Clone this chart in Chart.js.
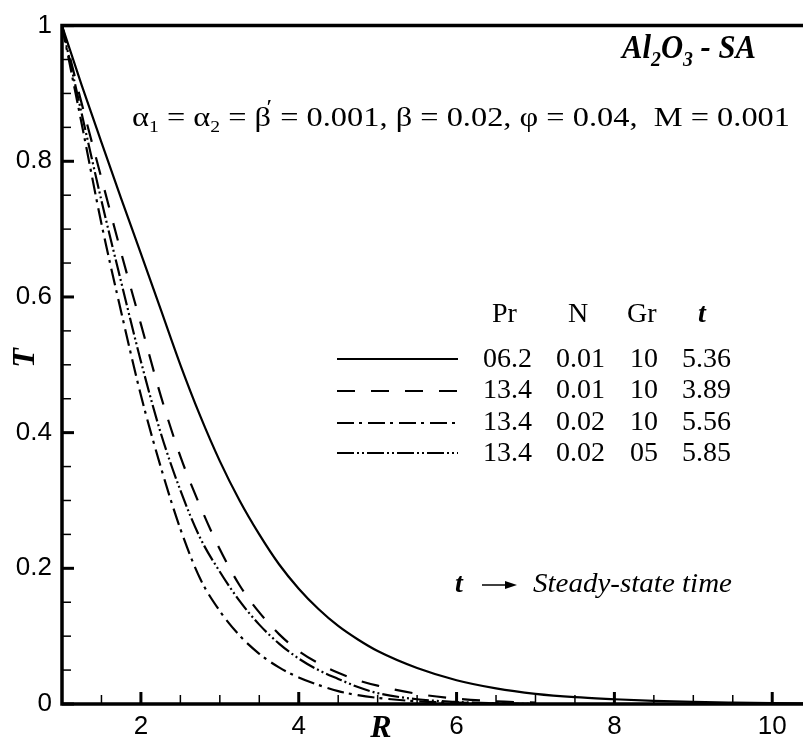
<!DOCTYPE html>
<html><head><meta charset="utf-8">
<script src="https://cdn.jsdelivr.net/npm/chart.js@4.4.0/dist/chart.umd.min.js"></script>
<style>html,body{margin:0;padding:0;background:#fff;}#wrap{width:803px;height:740px;}</style>
</head><body><div id="wrap"><canvas id="c" width="803" height="740"></canvas></div>
<script>
// ---- data ----
const rValues = [1, 1.25, 1.5, 1.75, 2, 2.25, 2.5, 2.75, 3, 3.25, 3.5, 3.75, 4, 4.25, 4.5, 4.75, 5, 5.5, 6, 6.5, 7, 7.5, 8, 8.5, 9, 9.5, 10, 10.5];
const tPr62 = [1.000, 0.912, 0.828, 0.745, 0.664, 0.582, 0.500, 0.425, 0.358, 0.300, 0.250, 0.206, 0.170, 0.140, 0.115, 0.095, 0.078, 0.053, 0.035, 0.023, 0.015, 0.010, 0.007, 0.0045, 0.003, 0.002, 0.0012, 0.0008];
const tPr134N01 = [1.000, 0.885, 0.775, 0.665, 0.560, 0.455, 0.365, 0.292, 0.228, 0.175, 0.135, 0.103, 0.078, 0.060, 0.046, 0.035, 0.027, 0.015, 0.008, 0.004, 0.002, null, null, null, null, null, null, null];
const tPr134N02 = [1.000, 0.855, 0.708, 0.578, 0.455, 0.350, 0.258, 0.185, 0.137, 0.101, 0.074, 0.054, 0.039, 0.028, 0.019, 0.013, 0.009, 0.004, 0.002, 0.001, 0.000, null, null, null, null, null, null, null];
const tPr134Gr05 = [1.000, 0.870, 0.742, 0.622, 0.505, 0.400, 0.315, 0.245, 0.195, 0.152, 0.117, 0.089, 0.067, 0.050, 0.037, 0.025, 0.016, 0.007, 0.003, 0.001, 0.000, null, null, null, null, null, null, null];

const legendHeader = ['Pr', 'N', 'Gr', 't'];
const legendRows = [
  ['06.2', '0.01', '10', '5.36'],
  ['13.4', '0.01', '10', '3.89'],
  ['13.4', '0.02', '10', '5.56'],
  ['13.4', '0.02', '05', '5.85']
];
const xTicks = [1, 1.5, 2, 2.5, 3, 3.5, 4, 4.5, 5, 5.5, 6, 6.5, 7, 7.5, 8, 8.5, 9, 9.5, 10];
const xTickLabels = {2: '2', 4: '4', 6: '6', 8: '8', 10: '10'};
const yTicks = [0, 0.05, 0.1, 0.15, 0.2, 0.25, 0.3, 0.35, 0.4, 0.45, 0.5, 0.55, 0.6, 0.65, 0.7, 0.75, 0.8, 0.85, 0.9, 0.95, 1];
const yTickLabels = {0: '0', 0.2: '0.2', 0.4: '0.4', 0.6: '0.6', 0.8: '0.8', 1: '1'};

// ---- helpers ----
function toPts(ys) { return rValues.map((r, i) => ({x: r, y: ys[i] === null ? null : ys[i]})); }
function lookupLabel(map, v) {
  for (const k in map) { if (Math.abs(parseFloat(k) - v) < 1e-6) return map[k]; }
  return '';
}
const SERIF = '"Liberation Serif", "Times New Roman", serif';
const SANS = '"Liberation Sans", Arial, sans-serif';

function richText(ctx, segs, x, y, targetW) {
  let w = 0;
  segs.forEach(s => { ctx.font = s.font; s.w = ctx.measureText(s.t).width; w += s.w + (s.dx || 0); });
  const k = targetW ? targetW / w : 1;
  ctx.save();
  ctx.translate(x, y);
  ctx.scale(k, 1);
  let cx = 0;
  ctx.textAlign = 'left';
  ctx.textBaseline = 'alphabetic';
  segs.forEach(s => { ctx.font = s.font; cx += (s.dx || 0); ctx.fillText(s.t, cx, s.dy || 0); cx += s.w; });
  ctx.restore();
}

const framePlugin = {
  id: 'frame',
  afterDatasetsDraw(chart) {
    const ctx = chart.ctx;
    const xs = chart.scales.x, ys = chart.scales.y;
    const L = chart.chartArea.left, R = chart.chartArea.right, T = chart.chartArea.top, B = chart.chartArea.bottom;
    ctx.save();
    ctx.strokeStyle = '#000';
    ctx.setLineDash([]);
    // inward ticks
    xTicks.forEach(v => {
      const px = xs.getPixelForValue(v);
      const major = lookupLabel(xTickLabels, v) !== '';
      ctx.lineWidth = major ? 3 : 1.5;
      ctx.beginPath(); ctx.moveTo(px, B); ctx.lineTo(px, B - (major ? 12 : 9)); ctx.stroke();
    });
    yTicks.forEach(v => {
      const py = ys.getPixelForValue(v);
      const major = lookupLabel(yTickLabels, v) !== '';
      ctx.lineWidth = major ? 3 : 1.5;
      ctx.beginPath(); ctx.moveTo(L, py); ctx.lineTo(L + (major ? 12 : 9), py); ctx.stroke();
    });
    // axes and top frame
    ctx.lineWidth = 3.5;
    ctx.beginPath();
    ctx.moveTo(R, T); ctx.lineTo(L, T); ctx.lineTo(L, B); ctx.lineTo(R, B);
    ctx.stroke();

    ctx.fillStyle = '#000';
    // axis titles
    ctx.font = 'italic bold 32px ' + SERIF;
    ctx.textAlign = 'center'; ctx.textBaseline = 'alphabetic';
    ctx.fillText('R', 381, 737);
    ctx.save();
    ctx.translate(34, 358); ctx.rotate(-Math.PI / 2);
    ctx.fillText('T', 0, 0);
    ctx.restore();

    // material label
    const bi = 'italic bold 34px ' + SERIF, bis = 'italic bold 22px ' + SERIF;
    richText(ctx, [
      {t: 'Al', font: bi}, {t: '2', font: bis, dy: 8}, {t: 'O', font: bi}, {t: '3', font: bis, dy: 8}, {t: ' - SA', font: bi}
    ], 622, 58, 134);

    // parameter line
    const rf = '28px ' + SERIF, rs = '17px ' + SERIF;
    richText(ctx, [
      {t: 'α', font: rf}, {t: '1', font: rs, dy: 6}, {t: ' = ', font: rf},
      {t: 'α', font: rf}, {t: '2', font: rs, dy: 6}, {t: ' = ', font: rf},
      {t: 'β', font: rf}, {t: '\u2032', font: '22px ' + SERIF, dy: -12, dx: -4}, {t: ' = 0.001, ', font: rf},
      {t: 'β', font: rf}, {t: ' = 0.02, ', font: rf},
      {t: 'φ', font: rf}, {t: ' = 0.04,  M = 0.001', font: rf}
    ], 132, 126, 658);

    // legend table
    ctx.textAlign = 'left'; ctx.textBaseline = 'alphabetic';
    const colX = [483, 556, 630, 682];
    const hdrX = [492, 568, 627, 698];
    legendHeader.forEach((h, i) => {
      ctx.font = (h === 't' ? 'italic bold 28px ' : '28px ') + SERIF;
      ctx.fillText(h, hdrX[i], 322);
    });
    const rowY = [367, 398, 430, 461];
    const lineY = [359, 391, 423, 453];
    ctx.font = '28px ' + SERIF;
    legendRows.forEach((row, r) => {
      row.forEach((cell, c) => ctx.fillText(cell, colX[c], rowY[r]));
    });
    chart.data.datasets.forEach((ds, i) => {
      ctx.lineWidth = ds.borderWidth;
      ctx.setLineDash(ds.borderDash || []);
      ctx.beginPath(); ctx.moveTo(337, lineY[i]); ctx.lineTo(458, lineY[i]); ctx.stroke();
    });
    ctx.setLineDash([]);

    // steady-state note
    ctx.font = 'italic bold 28px ' + SERIF;
    ctx.fillText('t', 455, 592);
    ctx.lineWidth = 1.5;
    ctx.beginPath(); ctx.moveTo(482, 585); ctx.lineTo(508, 585); ctx.stroke();
    ctx.beginPath(); ctx.moveTo(517, 585); ctx.lineTo(505, 581); ctx.lineTo(505, 589); ctx.closePath(); ctx.fill();
    richText(ctx, [{t: 'Steady-state time', font: 'italic 28px ' + SERIF}], 533, 592, 199);
    ctx.restore();
  }
};

const mk = (label, ys, dash) => ({
  label, data: toPts(ys), showLine: true, borderColor: '#000', backgroundColor: '#000',
  borderWidth: 2.2, borderDash: dash, pointRadius: 0, fill: false, cubicInterpolationMode: 'monotone', spanGaps: false
});

new Chart(document.getElementById('c'), {
  type: 'scatter',
  data: {
    datasets: [
      mk('Pr=06.2, N=0.01, Gr=10', tPr62, []),
      mk('Pr=13.4, N=0.01, Gr=10', tPr134N01, [18, 16]),
      mk('Pr=13.4, N=0.02, Gr=10', tPr134N02, [17, 5, 3, 6]),
      mk('Pr=13.4, N=0.02, Gr=05', tPr134Gr05, [17, 3, 2, 3, 2, 3])
    ]
  },
  options: {
    responsive: false, animation: false, devicePixelRatio: 1,
    layout: {padding: {top: 20, right: 0, left: 0, bottom: 0}},
    plugins: {legend: {display: false}, tooltip: {enabled: false}},
    scales: {
      x: {
        type: 'linear', min: 1, max: 10.39,
        afterBuildTicks: s => { s.ticks = xTicks.map(v => ({value: v})); },
        afterFit: s => { s.height = 36; },
        grid: {display: false, drawTicks: false}, border: {display: false},
        ticks: {autoSkip: false, maxRotation: 0, padding: 7, color: '#000',
          font: {family: SANS, size: 26},
          callback: v => lookupLabel(xTickLabels, v)}
      },
      y: {
        type: 'linear', min: 0, max: 1,
        afterBuildTicks: s => { s.ticks = yTicks.map(v => ({value: v})); },
        afterFit: s => { s.width = 62; },
        grid: {display: false, drawTicks: false}, border: {display: false},
        ticks: {autoSkip: false, padding: 10, color: '#000',
          font: {family: SANS, size: 26},
          callback: v => lookupLabel(yTickLabels, v)}
      }
    }
  },
  plugins: [framePlugin]
});
</script>
</body></html>
